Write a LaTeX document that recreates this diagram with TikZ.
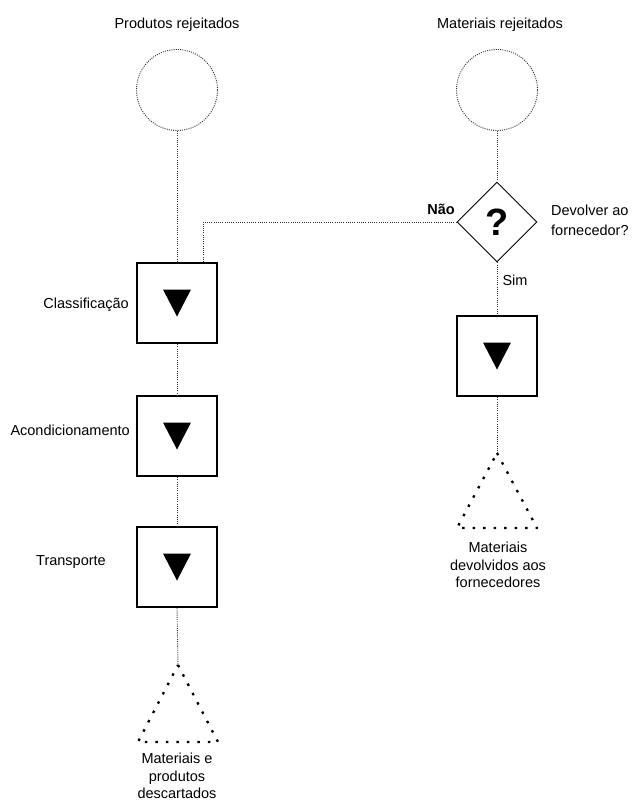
\documentclass[tikz,border=0pt]{standalone}
\usepackage{fontspec}
\setmainfont{Liberation Sans}
\usetikzlibrary{calc,shapes.geometric}
% filled downward marker drawn inside an operation box
\newcommand\downmark[1]{\fill ($(#1)+(-14,-13.5)$) -- ($(#1)+(14,-13.5)$) -- ($(#1)+(0,13.5)$) -- cycle;}
\begin{document}
\begin{tikzpicture}[x=1pt,y=-1pt,
  conn/.style={line width=0.9pt, dash pattern=on 1pt off 1.2pt, black!80},
  startcirc/.style={circle, draw=black!80, line width=0.9pt, dash pattern=on 1pt off 1.2pt, minimum size=81pt, inner sep=0pt},
  opbox/.style={rectangle, draw, line width=2.2pt, minimum size=80pt, inner sep=0pt},
  decision/.style={diamond, draw, line width=0.9pt, minimum size=80pt, inner sep=0pt, font=\fontsize{38}{38}\selectfont\bfseries},
  endtri/.style={line width=2.3pt, dash pattern=on 2.5pt off 8pt, line join=round},
  lbl/.style={font=\fontsize{14.5}{17.5}\selectfont, inner sep=0pt},
  ]
\useasboundingbox (0,0) rectangle (634,802);

% column headings
\node[lbl] (h1) at (177,25) {Produtos rejeitados};
\node[lbl] (h2) at (500,25) {Materiais rejeitados};

% start circles
\node[startcirc] (c1) at (177,90) {};
\node[startcirc] (c2) at (497,90) {};

% left column: operations
\node[opbox] (b1) at (177,303) {};
\node[opbox] (b2) at (177,436) {};
\node[opbox] (b3) at (177,567) {};
\downmark{b1}
\downmark{b2}
\downmark{b3}
\node[lbl, anchor=east] (l1) at (129,305) {Classificação};
\node[lbl, anchor=east] (l2) at (130,430) {Acondicionamento};
\node[lbl] (l3) at (71,562) {Transporte};

% right column: decision and return
\node[decision] (d1) at (497,222) {?};
\node[opbox] (b4) at (497,356) {};
\downmark{b4}
\node[lbl, font=\fontsize{14.5}{18}\selectfont\bfseries] (nao) at (441,209) {Não};
\node[lbl, font=\fontsize{14.5}{20}\selectfont, align=left, anchor=west] (qd) at (551,220) {Devolver ao\\fornecedor?};
\node[lbl] (sim) at (515,280) {Sim};

% end triangles
\coordinate (t1) at (178,665);
\coordinate (t2) at (497,453);
\draw[endtri] (t1) -- ++(40,77) -- ++(-80,0) -- cycle;
\draw[endtri] (t2) -- ++(40,75) -- ++(-80,0) -- cycle;
\node[lbl, align=center] (e1) at (177,776) {Materiais e\\produtos\\descartados};
\node[lbl, align=center] (e2) at (498,565) {Materiais\\devolvidos aos\\fornecedores};

% connectors
\draw[conn] (c1) -- (b1);
\draw[conn] (b1) -- (b2);
\draw[conn] (b2) -- (b3);
\draw[conn] (b3.south) -- (t1);
\draw[conn] (c2) -- (d1);
\draw[conn] (d1.west) -| ([xshift=26pt]b1.north);
\draw[conn] (d1) -- (b4);
\draw[conn] (b4.south) -- (t2);
\end{tikzpicture}
\end{document}
